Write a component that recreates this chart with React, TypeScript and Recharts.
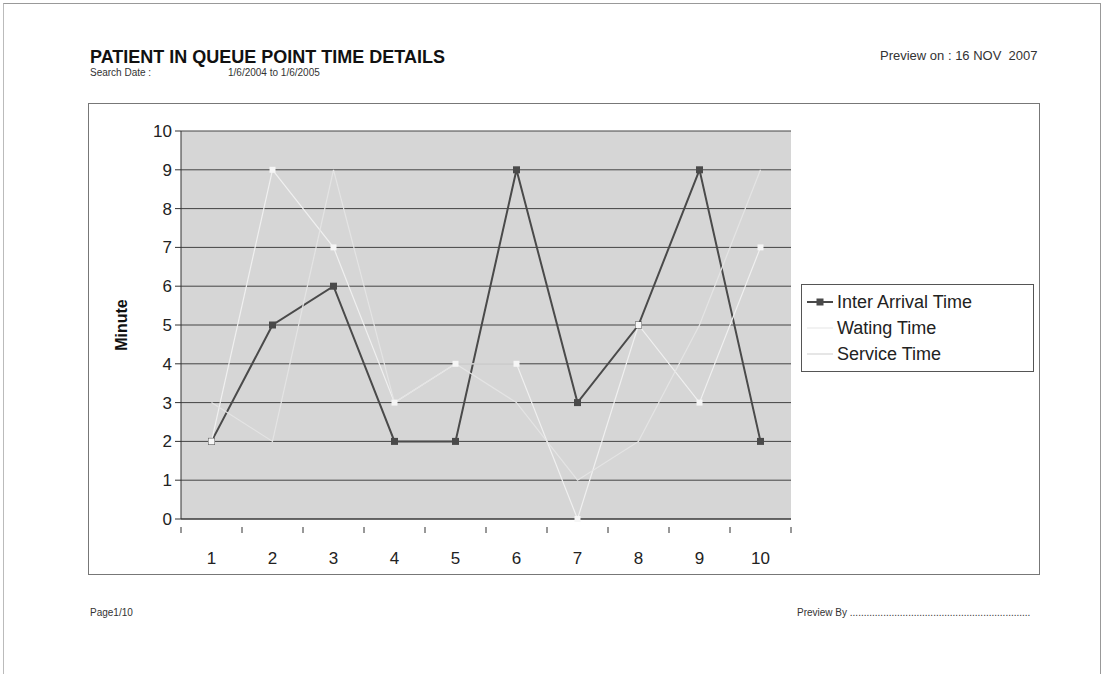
import React from 'react';
import { LineChart, Line, XAxis, YAxis, CartesianGrid } from 'recharts';

const CATEGORIES = ['1', '2', '3', '4', '5', '6', '7', '8', '9', '10'];
const INTER_ARRIVAL = [2, 5, 6, 2, 2, 9, 3, 5, 9, 2];
const WAITING = [2, 9, 7, 3, 4, 4, 0, 5, 3, 7];
const SERVICE = [3, 2, 9, 3, 4, 3, 1, 2, 5, 9];
const Y_TICKS = [0, 1, 2, 3, 4, 5, 6, 7, 8, 9, 10];

const data = CATEGORIES.map((c, i) => ({
  cat: c,
  iat: INTER_ARRIVAL[i],
  wait: WAITING[i],
  service: SERVICE[i],
}));

const font = 'Arial, "Liberation Sans", sans-serif';
const BAND = 61;

const SquareDot = (props: any) => {
  const { cx, cy } = props;
  if (cx == null || cy == null) return null;
  return <rect x={cx - 3.5} y={cy - 3.5} width={7} height={7} fill="#4a4a4a" />;
};

const WhiteDot = (props: any) => {
  const { cx, cy } = props;
  if (cx == null || cy == null) return null;
  return <rect x={cx - 3} y={cy - 3} width={6} height={6} fill="#f6f6f6" />;
};

const XTick = (props: any) => {
  const { x, y, payload, index } = props;
  return (
    <g>
      {index === 0 && <line x1={x - BAND / 2} x2={x - BAND / 2} y1={y} y2={y + 6} stroke="#333" />}
      <line x1={x + BAND / 2} x2={x + BAND / 2} y1={y} y2={y + 6} stroke="#333" />
      <text x={x} y={y + 37} textAnchor="middle" fontSize={17} fill="#222" fontFamily={font}>
        {payload.value}
      </text>
    </g>
  );
};

const LEGEND_ITEMS = [
  { name: 'Inter Arrival Time', color: '#4a4a4a', marker: true },
  { name: 'Wating Time', color: '#f2f2f2', marker: false },
  { name: 'Service Time', color: '#e6e6e6', marker: false },
];

const LegendBox = () => (
  <div
    style={{
      position: 'absolute',
      left: 712,
      top: 180,
      border: '1px solid #555',
      background: '#fff',
      width: 233,
      height: 88,
      padding: '4px 0 0 4px',
      fontFamily: font,
      fontSize: 18,
      color: '#222',
      boxSizing: 'border-box',
    }}
  >
    {LEGEND_ITEMS.map((it) => (
      <div key={it.name} style={{ display: 'flex', alignItems: 'center', height: 26 }}>
        <svg width={28} height={12} style={{ marginRight: 3 }}>
          <line x1={1} x2={27} y1={6} y2={6} stroke={it.color} strokeWidth={2} />
          {it.marker && <rect x={10.5} y={2.5} width={7} height={7} fill={it.color} />}
        </svg>
        <span>{it.name}</span>
      </div>
    ))}
  </div>
);

export default function App() {
  return (
    <div
      style={{
        position: 'fixed',
        left: 0,
        top: 0,
        width: 1110,
        height: 674,
        background: '#fff',
        fontFamily: font,
        color: '#222',
      }}
    >
      <div
        style={{
          position: 'absolute',
          left: 3,
          top: 3,
          width: 1096,
          height: 680,
          borderTop: '1px solid #999',
          borderLeft: '1px solid #bbb',
          borderRight: '1px solid #999',
        }}
      />
      <div style={{ position: 'absolute', left: 90, top: 47, fontSize: 18, fontWeight: 'bold', color: '#111' }}>
        PATIENT IN QUEUE POINT TIME DETAILS
      </div>
      <div style={{ position: 'absolute', left: 90, top: 67, fontSize: 10, color: '#333' }}>Search Date :</div>
      <div style={{ position: 'absolute', left: 228, top: 67, fontSize: 10, color: '#333' }}>1/6/2004 to 1/6/2005</div>
      <div style={{ position: 'absolute', left: 880, top: 48, fontSize: 13, color: '#333', whiteSpace: 'pre' }}>
        Preview on : 16 NOV  2007
      </div>
      <div style={{ position: 'absolute', left: 90, top: 607, fontSize: 10, color: '#333' }}>Page1/10</div>
      <div style={{ position: 'absolute', left: 797, top: 607, fontSize: 10, color: '#333' }}>
        Preview By .................................................................
      </div>

      <div
        style={{
          position: 'absolute',
          left: 88,
          top: 103,
          width: 952,
          height: 472,
          border: '1px solid #777',
          boxSizing: 'border-box',
          background: '#fff',
        }}
      >
        <LineChart
          width={950}
          height={470}
          data={data}
          margin={{ top: 27, right: 248, left: 0, bottom: 0 }}
        >
          <CartesianGrid vertical={false} stroke="#444" fill="#d6d6d6" fillOpacity={1} />
          <XAxis
            dataKey="cat"
            padding={{ left: BAND / 2, right: BAND / 2 }}
            tickLine={false}
            axisLine={{ stroke: '#333' }}
            tick={<XTick />}
            height={55}
            interval={0}
          />
          <YAxis
            domain={[0, 10]}
            ticks={Y_TICKS}
            width={92}
            interval={0}
            tickSize={6}
            tickMargin={3}
            tickLine={{ stroke: '#333' }}
            axisLine={{ stroke: '#333' }}
            tick={{ fontSize: 17, fill: '#222', fontFamily: font }}
            label={{
              value: 'Minute',
              angle: -90,
              position: 'center',
              dx: -14,
              style: { fontSize: 16, fontWeight: 'bold', fill: '#111', fontFamily: font },
            }}
          />
          <YAxis
            yAxisId="frame"
            orientation="right"
            width={0}
            tick={false}
            tickLine={false}
            axisLine={{ stroke: '#999' }}
          />
          <Line
            type="linear"
            dataKey="iat"
            name="Inter Arrival Time"
            stroke="#4a4a4a"
            strokeWidth={2}
            dot={<SquareDot />}
            isAnimationActive={false}
          />
          <Line
            type="linear"
            dataKey="wait"
            name="Wating Time"
            stroke="#f0f0f0"
            strokeWidth={1.2}
            dot={<WhiteDot />}
            isAnimationActive={false}
          />
          <Line
            type="linear"
            dataKey="service"
            name="Service Time"
            stroke="#e4e4e4"
            strokeWidth={1.2}
            dot={false}
            isAnimationActive={false}
          />
        </LineChart>
        <LegendBox />
      </div>
    </div>
  );
}
